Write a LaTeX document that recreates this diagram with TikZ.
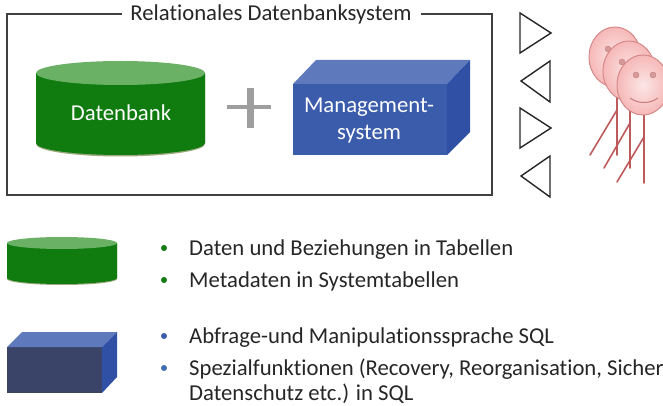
\documentclass[tikz,border=0pt]{standalone}
\usepackage{fontspec}
\setmainfont{Carlito}[Ligatures={NoCommon}]
\definecolor{gbody}{HTML}{107C10}
\definecolor{gtop}{HTML}{6AB165}
\definecolor{gedge}{HTML}{9DA97F}
\definecolor{bfront}{HTML}{3B5BAB}
\definecolor{bdot}{HTML}{3F6FB0}
\definecolor{btop}{HTML}{5F79BD}
\definecolor{bside}{HTML}{2F50A5}
\definecolor{dfront}{HTML}{3A4468}
\definecolor{frameC}{HTML}{404040}
\definecolor{txt}{HTML}{262626}
\definecolor{legC}{HTML}{BC5A5C}
\definecolor{faceE}{HTML}{D88A8A}
\definecolor{faceI}{HTML}{FCE6E6}
\definecolor{faceO}{HTML}{F6B8B8}
\definecolor{eyeC}{HTML}{C98080}
\tikzset{
  label text/.style={font=\fontsize{22.7}{26}\selectfont,text=txt,anchor=base west,inner sep=0pt},
  white text/.style={font=\fontsize{22.7}{26}\selectfont,text=white,anchor=base,inner sep=0pt},
  tri/.style={draw=black!85,line width=1.4pt,line join=miter,fill=white},
  leg/.style={draw=legC,line width=1.6pt,line cap=round},
  face/.style={draw=faceE,line width=1pt,inner color=faceI,outer color=faceO},
  eye/.style={fill=eyeC!80!white,draw=eyeC},
  bullet/.style={circle,inner sep=0pt,minimum size=6pt}
}
\begin{document}
\begin{tikzpicture}[x=1pt,y=-1pt]
\useasboundingbox (0,0) rectangle (663,406);
% frame
\coordinate (fl) at (122,14);
\coordinate (fr) at (421,14);
\draw[frameC,line width=1.4pt] (fl) -- (7,14) -- (7,195) -- (492,195) -- (492,14) -- (fr);
\node[font=\fontsize{22.7}{26}\selectfont,text=txt,anchor=base,inner sep=0pt] (title) at (271,21) {Relationales Datenbanksystem};
% big cylinder
\fill[gedge] (36,74) -- (205,74) -- (205,144) arc[start angle=0,end angle=180,x radius=84.5,y radius=12.5] -- cycle;
\fill[gbody] (36,73) -- (205,73) -- (205,143) arc[start angle=0,end angle=180,x radius=84.5,y radius=12] -- cycle;
\fill[gtop] (120.5,73) ellipse[x radius=84.5,y radius=12];
\node[white text] (db) at (121,120.5) {Datenbank};
% plus
\fill[black!38] (227,105.5) rectangle (271,109);
\fill[black!38] (246.5,88) rectangle (253.5,128);
% big box
\fill[bfront] (293,84) rectangle (447,155);
\fill[btop] (293,84) -- (316,60) -- (470,60) -- (447,84) -- cycle;
\fill[bside] (447,84) -- (470,60) -- (470,132) -- (447,155) -- cycle;
\node[white text] (m1) at (369,112.5) {Management-};
\node[white text] (m2) at (369,140) {system};
% triangles
\draw[tri] (520,13) -- (520,53) -- (551,33) -- cycle;
\draw[tri] (550,61) -- (550,102) -- (521,81) -- cycle;
\draw[tri] (520,108) -- (520,148) -- (551,128) -- cycle;
\draw[tri] (550,156) -- (550,197) -- (521,176) -- cycle;
% actors
\draw[leg] (617,87) -- (617,155) (617,110) -- (590,155);
\filldraw[face] (615,57) ellipse[x radius=26,y radius=30];
\fill[eye] (608,49) circle[radius=3];
\draw[leg] (630,100) -- (630,168) (630,123) -- (604,168);
\filldraw[face] (629,71) ellipse[x radius=26,y radius=30];
\fill[eye] (622,62) circle[radius=3];
\draw[leg] (644,115) -- (644,183) (644,137) -- (617,182);
\filldraw[face] (643,85) ellipse[x radius=26,y radius=30];
\fill[eye] (636,75) circle[radius=3];
\fill[eye] (653,75) circle[radius=3];
\draw[legC!80!white,line width=1pt] (630,98) .. controls (638,104) and (650,104) .. (658,98);
% small cylinder
\fill[gedge] (7,243) -- (117,243) -- (117,279) arc[start angle=0,end angle=180,x radius=55,y radius=6] -- cycle;
\fill[gbody] (7,243) -- (117,243) -- (117,278) arc[start angle=0,end angle=180,x radius=55,y radius=6] -- cycle;
\fill[gtop] (62,243) ellipse[x radius=55,y radius=6];
% small box
\fill[dfront] (7,347) rectangle (102,393);
\fill[btop] (7,347) -- (22,332) -- (117,332) -- (102,347) -- cycle;
\fill[bside] (102,347) -- (117,332) -- (117,377) -- (102,393) -- cycle;
% bullets
\node[bullet,fill=gbody] (b1) at (164,248) {};
\node[bullet,fill=gbody] (b2) at (164,280) {};
\node[bullet,fill=bfront] (b3) at (164,336) {};
\node[bullet,fill=bdot] (b4) at (164,368) {};
\node[label text] (t1) at (189,255) {Daten und Beziehungen in Tabellen};
\node[label text] (t2) at (189,287) {Metadaten in Systemtabellen};
\node[label text] (t3) at (189,343) {Abfrage-und Manipulationssprache SQL};
\node[label text] (t4) at (189,375) {Spezialfunktionen (Recovery, Reorganisation, Sicher};
\node[label text] (t5) at (189,400.5) {Datenschutz etc.) in SQL};
\end{tikzpicture}
\end{document}
